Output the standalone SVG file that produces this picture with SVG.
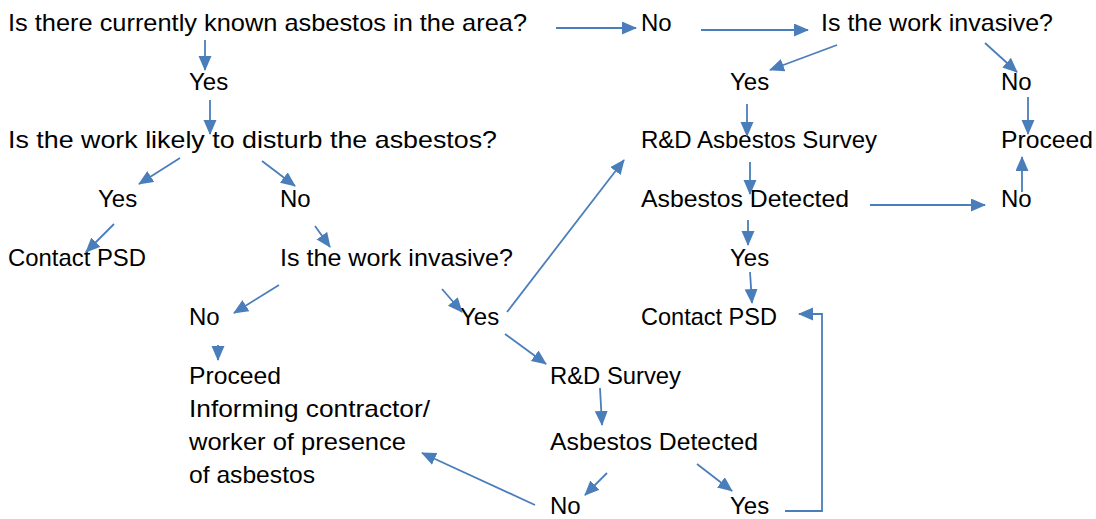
<svg xmlns="http://www.w3.org/2000/svg" width="1096" height="519" viewBox="0 0 1096 519">
<style>
text{font-family:"Liberation Sans",Arial,sans-serif;font-size:24px;fill:#000}
.c line,.c polyline{stroke:#4a7ebb;stroke-width:1.8;fill:none;marker-end:url(#ah)}
</style>
<defs>
<marker id="ah" markerUnits="userSpaceOnUse" markerWidth="16" markerHeight="14" refX="14" refY="6.5" orient="auto">
<path d="M0,0 L15,6.5 L0,13 Z" fill="#4a7ebb"/>
</marker>
</defs>
<rect width="1096" height="519" fill="#fff"/>
<g id="n1"><text x="8" y="31" textLength="519" lengthAdjust="spacingAndGlyphs">Is there currently known asbestos in the area?</text></g>
<g id="n2"><text x="189" y="90">Yes</text></g>
<g id="n3"><text x="8" y="148" textLength="489" lengthAdjust="spacingAndGlyphs">Is the work likely to disturb the asbestos?</text></g>
<g id="n4"><text x="98" y="207">Yes</text></g>
<g id="n5"><text x="280" y="207">No</text></g>
<g id="n6"><text x="8" y="266" textLength="138" lengthAdjust="spacingAndGlyphs">Contact PSD</text></g>
<g id="n7"><text x="280" y="266" textLength="233" lengthAdjust="spacingAndGlyphs">Is the work invasive?</text></g>
<g id="n8"><text x="189" y="325">No</text></g>
<g id="n9"><text x="460" y="325">Yes</text></g>
<g id="n10"><text x="189" y="384" textLength="92" lengthAdjust="spacingAndGlyphs">Proceed</text><text x="189" y="417" textLength="241" lengthAdjust="spacingAndGlyphs">Informing contractor/</text><text x="189" y="450" textLength="217" lengthAdjust="spacingAndGlyphs">worker of presence</text><text x="189" y="483" textLength="126" lengthAdjust="spacingAndGlyphs">of asbestos</text></g>
<g id="n11"><text x="550" y="384" textLength="131" lengthAdjust="spacingAndGlyphs">R&amp;D Survey</text></g>
<g id="n12"><text x="550" y="450" textLength="208" lengthAdjust="spacingAndGlyphs">Asbestos Detected</text></g>
<g id="n13"><text x="550" y="514">No</text></g>
<g id="n14"><text x="730" y="514">Yes</text></g>
<g id="n15"><text x="641" y="31">No</text></g>
<g id="n16"><text x="821" y="31" textLength="232" lengthAdjust="spacingAndGlyphs">Is the work invasive?</text></g>
<g id="n17"><text x="730" y="90">Yes</text></g>
<g id="n18"><text x="1001" y="90">No</text></g>
<g id="n19"><text x="641" y="148" textLength="236" lengthAdjust="spacingAndGlyphs">R&amp;D Asbestos Survey</text></g>
<g id="n20"><text x="1001" y="148" textLength="92" lengthAdjust="spacingAndGlyphs">Proceed</text></g>
<g id="n21"><text x="641" y="207" textLength="208" lengthAdjust="spacingAndGlyphs">Asbestos Detected</text></g>
<g id="n22"><text x="1001" y="207">No</text></g>
<g id="n23"><text x="730" y="266">Yes</text></g>
<g id="n24"><text x="641" y="325" textLength="136" lengthAdjust="spacingAndGlyphs">Contact PSD</text></g>
<g id="connectors" class="c">
<line x1="205" y1="40" x2="205" y2="70"/>
<line x1="210" y1="100" x2="210" y2="134"/>
<line x1="556" y1="28" x2="636" y2="28"/>
<line x1="701" y1="30" x2="808" y2="30"/>
<line x1="837" y1="45" x2="770" y2="70"/>
<line x1="985" y1="43" x2="1017" y2="72"/>
<line x1="747" y1="104" x2="747" y2="136"/>
<line x1="1028" y1="97" x2="1028" y2="134"/>
<line x1="750" y1="162" x2="750" y2="194"/>
<line x1="870" y1="205" x2="985" y2="205"/>
<line x1="1022" y1="192" x2="1022" y2="157"/>
<line x1="748" y1="220" x2="748" y2="245"/>
<line x1="750" y1="272" x2="752" y2="303"/>
<polyline points="785,511 822,511 822,314 799,314"/>
<line x1="600" y1="388" x2="602" y2="425"/>
<line x1="607" y1="473" x2="585" y2="495"/>
<line x1="697" y1="464" x2="732" y2="491"/>
<line x1="505" y1="334" x2="546" y2="364"/>
<line x1="507" y1="312" x2="624" y2="160"/>
<line x1="180" y1="158" x2="139" y2="184"/>
<line x1="262" y1="161" x2="295" y2="186"/>
<line x1="114" y1="224" x2="86" y2="252"/>
<line x1="315" y1="226" x2="330" y2="247"/>
<line x1="279" y1="285" x2="234" y2="313"/>
<line x1="442" y1="289" x2="462" y2="312"/>
<line x1="218" y1="345" x2="218" y2="360"/>
<line x1="535" y1="505" x2="422" y2="453"/>
</g>
</svg>
